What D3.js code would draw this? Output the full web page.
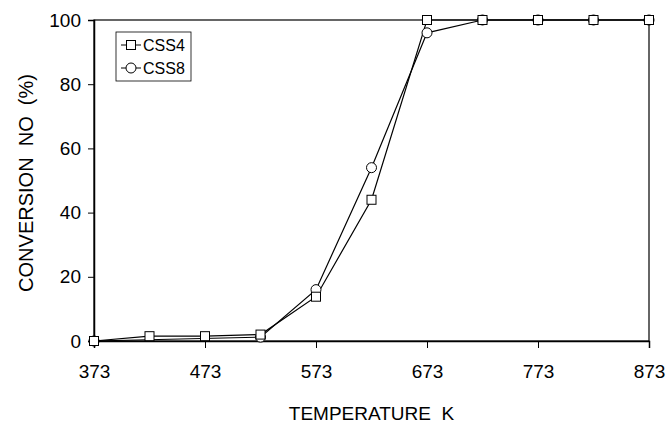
<!DOCTYPE html>
<html>
<head>
<meta charset="utf-8">
<script src="https://cdn.jsdelivr.net/npm/d3@7"></script>
<style>
  body { margin: 0; background: #fff; }
  text { font-family: "Liberation Sans", Arial, sans-serif; fill: #000; white-space: pre; }
</style>
</head>
<body>
<div id="chart"></div>
<script>
/* conversion of NO vs temperature */
var tempsCSS4 = [373, 423, 473, 523, 573, 623, 673, 723, 773, 823, 873];
var valsCSS4  = [0, 1.5, 1.5, 2, 13.8, 44, 100, 100, 100, 100, 100];
var tempsCSS8 = [373, 523, 573, 623, 673, 723, 773, 823, 873];
var valsCSS8  = [0, 1.2, 16, 54, 96, 100, 100, 100, 100];
var xTicks = [373, 473, 573, 673, 773, 873];
var yTicks = [0, 20, 40, 60, 80, 100];

var margin = {top: 20, right: 19, bottom: 83, left: 94},
    width = 668 - margin.left - margin.right,
    height = 424 - margin.top - margin.bottom;

var svg = d3.select("#chart")
            .append("svg")
            .attr("width", 668)
            .attr("height", 424);

var g = svg.append("g")
           .attr("transform", "translate(" + margin.left + "," + margin.top + ")");

var x = d3.scaleLinear().domain([373, 873]).range([0, width]);
var y = d3.scaleLinear().domain([0, 100]).range([height, 0]);

// frame
g.append("rect")
 .attr("width", width)
 .attr("height", height)
 .attr("fill", "none")
 .attr("stroke", "#000")
 .attr("stroke-width", 1.2);

var xAxis = d3.axisBottom(x).tickValues(xTicks).tickSize(7).tickPadding(17).tickFormat(d3.format("d"));
var yAxis = d3.axisLeft(y).tickValues(yTicks).tickSize(6).tickPadding(7);

var gx = g.append("g")
          .attr("transform", "translate(0," + height + ")")
          .call(xAxis);
var gy = g.append("g").call(yAxis);

[gx, gy].forEach(function(a) {
  a.select(".domain").attr("stroke", "#000").attr("stroke-width", 1.5);
  a.selectAll(".tick line").attr("stroke", "#000");
  a.selectAll(".tick text").style("font-size", "19px");
});

g.append("text")
 .attr("x", width / 2)
 .attr("y", height + 79)
 .attr("text-anchor", "middle")
 .style("font-size", "19px")
 .text("TEMPERATURE  K");

g.append("text")
 .attr("transform", "rotate(-90)")
 .attr("x", -163)
 .attr("y", -61)
 .attr("text-anchor", "middle")
 .style("font-size", "20px")
 .text("CONVERSION  NO  (%)");

var line = d3.line()
             .x(function(d) { return x(d[0]); })
             .y(function(d) { return y(d[1]); });

var css4 = d3.zip(tempsCSS4, valsCSS4);
var css8 = d3.zip(tempsCSS8, valsCSS8);

g.append("path").datum(css8).attr("d", line)
 .attr("fill", "none").attr("stroke", "#000").attr("stroke-width", 1.2);
g.append("path").datum(css4).attr("d", line)
 .attr("fill", "none").attr("stroke", "#000").attr("stroke-width", 1.2);

g.selectAll(".c8").data(css8).enter().append("circle")
 .attr("class", "c8")
 .attr("cx", function(d) { return x(d[0]); })
 .attr("cy", function(d) { return y(d[1]); })
 .attr("r", 5)
 .attr("fill", "#fff").attr("stroke", "#000").attr("stroke-width", 1);

g.selectAll(".s4").data(css4).enter().append("rect")
 .attr("class", "s4")
 .attr("x", function(d) { return x(d[0]) - 4.5; })
 .attr("y", function(d) { return y(d[1]) - 4.5; })
 .attr("width", 9).attr("height", 9)
 .attr("fill", "#fff").attr("stroke", "#000").attr("stroke-width", 1);

// legend
var lg = g.append("g").attr("transform", "translate(22,12)");
lg.append("rect")
  .attr("width", 75).attr("height", 49)
  .attr("fill", "#fff").attr("stroke", "#000").attr("stroke-width", 0.8);

var legendItems = [["CSS4", "square"], ["CSS8", "circle"]];
legendItems.forEach(function(it, i) {
  var cy = 13 + i * 23;
  lg.append("line").attr("x1", 5).attr("x2", 25).attr("y1", cy).attr("y2", cy)
    .attr("stroke", "#000");
  if (it[1] === "square") {
    lg.append("rect").attr("x", 10.5).attr("y", cy - 4.5).attr("width", 9).attr("height", 9)
      .attr("fill", "#fff").attr("stroke", "#000");
  } else {
    lg.append("circle").attr("cx", 15).attr("cy", cy).attr("r", 5)
      .attr("fill", "#fff").attr("stroke", "#000");
  }
  lg.append("text").attr("x", 27).attr("y", cy + 6)
    .style("font-size", "16px")
    .text(it[0]);
});
</script>
</body>
</html>
